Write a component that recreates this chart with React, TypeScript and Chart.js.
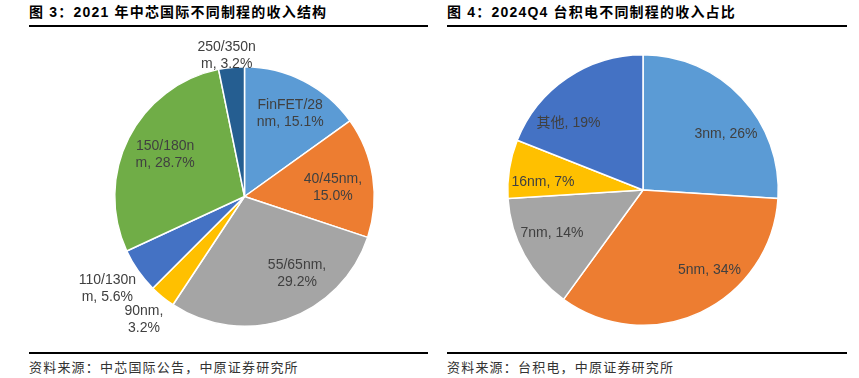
import React, { useEffect, useRef } from "react";
import { Chart, registerables } from "chart.js";

Chart.register(...registerables);

// ---------- Data: Figure 3 (SMIC 2021 revenue by process node) ----------
const smicCategories = ["FinFET/28nm", "40/45nm", "55/65nm", "90nm", "110/130nm", "150/180nm", "250/350nm"];
const smicValues = [15.1, 15.0, 29.2, 3.2, 5.6, 28.7, 3.2];
const smicLabelLines = [
  ["FinFET/28", "nm, 15.1%"],
  ["40/45nm,", "15.0%"],
  ["55/65nm,", "29.2%"],
  ["90nm,", "3.2%"],
  ["110/130n", "m, 5.6%"],
  ["150/180n", "m, 28.7%"],
  ["250/350n", "m, 3.2%"],
];
const smicColors = ["#5B9BD5", "#ED7D31", "#A5A5A5", "#FFC000", "#4472C4", "#70AD47", "#255E91"];
const smicLabelRadius = [0.72, 0.72, 0.72, 1.225, 1.27, 0.72, 1.1];
const smicLabelShift = [[3, 0], [-4, 5], [22, -11], [0, 0], [-2, -2.5], [4, 0], [-3.5, 1]];

// ---------- Data: Figure 4 (TSMC 2024Q4 revenue by process node) ----------
const tsmcCategories = ["3nm", "5nm", "7nm", "16nm", "其他"];
const tsmcValues = [26, 34, 14, 7, 19];
const tsmcLabelLines = [["3nm, 26%"], ["5nm, 34%"], ["7nm, 14%"], ["16nm, 7%"], ["其他, 19%"]];
const tsmcColors = ["#5B9BD5", "#ED7D31", "#A5A5A5", "#FFC000", "#4472C4"];
const tsmcLabelRadius = [0.73, 0.73, 0.73, 0.73, 0.73];
const tsmcLabelShift = [[11, 11.5], [24.5, -9], [-4.5, -4.5], [-2.5, 7.5], [-19, 14.5]];

const titles = ["图 3：2021 年中芯国际不同制程的收入结构", "图 4：2024Q4 台积电不同制程的收入占比"];
const sources = ["资料来源：中芯国际公告，中原证券研究所", "资料来源：台积电，中原证券研究所"];

const LABEL_FONT = "14px 'Liberation Sans', 'Noto Sans CJK SC', Arial, sans-serif";

type PieProps = {
  labels: string[];
  values: number[];
  colors: string[];
  labelLines: string[][];
  labelRadius: number[];
  labelShift: number[][];
  width: number;
  height: number;
  padding: { left: number; right: number; top: number; bottom: number };
  style: React.CSSProperties;
};

function PieChart(props: PieProps) {
  const ref = useRef<HTMLCanvasElement | null>(null);
  useEffect(() => {
    if (!ref.current) return;
    const labelPlugin = {
      id: "sliceLabels",
      afterDatasetsDraw(chart: any) {
        const ctx = chart.ctx;
        const meta = chart.getDatasetMeta(0);
        ctx.save();
        ctx.font = LABEL_FONT;
        ctx.fillStyle = "#404040";
        ctx.textAlign = "center";
        ctx.textBaseline = "middle";
        meta.data.forEach((arc: any, i: number) => {
          const p = arc.getProps(["x", "y", "startAngle", "endAngle", "outerRadius"], true);
          const mid = (p.startAngle + p.endAngle) / 2;
          const rr = p.outerRadius * props.labelRadius[i];
          const cx = p.x + Math.cos(mid) * rr + props.labelShift[i][0];
          const cy = p.y + Math.sin(mid) * rr + props.labelShift[i][1];
          const lines = props.labelLines[i];
          const lh = 17;
          lines.forEach((t, k) => {
            ctx.fillText(t, cx, cy + (k - (lines.length - 1) / 2) * lh);
          });
        });
        ctx.restore();
      },
    };
    const chart = new Chart(ref.current, {
      type: "pie",
      data: {
        labels: props.labels,
        datasets: [
          {
            data: props.values,
            backgroundColor: props.colors,
            borderColor: "#ffffff",
            borderWidth: 1.5,
          },
        ],
      },
      options: {
        responsive: false,
        maintainAspectRatio: false,
        animation: false,
        layout: { padding: props.padding },
        plugins: {
          legend: { display: false },
          tooltip: { enabled: false },
        },
      },
      plugins: [labelPlugin],
    });
    return () => chart.destroy();
  }, []);
  return <canvas ref={ref} width={props.width} height={props.height} style={props.style} />;
}

const titleStyle: React.CSSProperties = {
  position: "absolute",
  top: 4,
  fontFamily: "'Liberation Sans', 'Noto Sans CJK SC', sans-serif",
  fontWeight: "bold",
  fontSize: 14,
  letterSpacing: 1.2,
  color: "#000",
  whiteSpace: "nowrap",
  lineHeight: "17px",
};

const sourceStyle: React.CSSProperties = {
  position: "absolute",
  top: 358,
  fontFamily: "'Noto Sans CJK SC', sans-serif",
  fontSize: 13,
  letterSpacing: 1.2,
  color: "#333",
  whiteSpace: "nowrap",
  lineHeight: "17px",
};

const lineStyle = (left: number, top: number, width: number): React.CSSProperties => ({
  position: "absolute",
  left,
  top,
  width,
  height: 2,
  background: "#000",
});

export default function App() {
  return (
    <div
      style={{
        position: "fixed",
        left: 0,
        top: 0,
        width: 859,
        height: 378,
        background: "#fff",
        overflow: "hidden",
      }}
    >
      <div style={{ ...titleStyle, left: 29 }}>{titles[0]}</div>
      <div style={{ ...titleStyle, left: 447 }}>{titles[1]}</div>
      <div style={lineStyle(29, 25, 399)} />
      <div style={lineStyle(447, 25, 400)} />

      <PieChart
        labels={smicCategories}
        values={smicValues}
        colors={smicColors}
        labelLines={smicLabelLines}
        labelRadius={smicLabelRadius}
        labelShift={smicLabelShift}
        width={430}
        height={315}
        padding={{ left: 114, right: 55, top: 36, bottom: 18 }}
        style={{ position: "absolute", left: 0, top: 30 }}
      />
      <PieChart
        labels={tsmcCategories}
        values={tsmcValues}
        colors={tsmcColors}
        labelLines={tsmcLabelLines}
        labelRadius={tsmcLabelRadius}
        labelShift={tsmcLabelShift}
        width={429}
        height={315}
        padding={{ left: 77, right: 80, top: 24, bottom: 19 }}
        style={{ position: "absolute", left: 430, top: 30 }}
      />

      <div style={lineStyle(29, 352, 399)} />
      <div style={lineStyle(447, 352, 400)} />
      <div style={{ ...sourceStyle, left: 29 }}>{sources[0]}</div>
      <div style={{ ...sourceStyle, left: 447 }}>{sources[1]}</div>
    </div>
  );
}
